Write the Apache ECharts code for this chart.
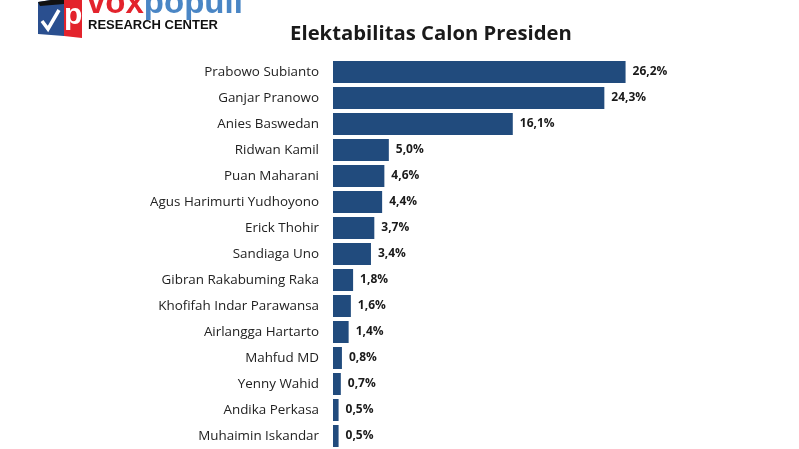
<!DOCTYPE html>
<html><head><meta charset="utf-8">
<script src="https://cdn.jsdelivr.net/npm/echarts@6/dist/echarts.min.js"></script>
<style>html,body{margin:0;padding:0;background:#fff}#c{width:799px;height:449px}</style>
</head><body><div id="c"></div>
<script>
var categories = ["Prabowo Subianto","Ganjar Pranowo","Anies Baswedan","Ridwan Kamil","Puan Maharani","Agus Harimurti Yudhoyono","Erick Thohir","Sandiaga Uno","Gibran Rakabuming Raka","Khofifah Indar Parawansa","Airlangga Hartarto","Mahfud MD","Yenny Wahid","Andika Perkasa","Muhaimin Iskandar"];
var values = [26.2,24.3,16.1,5.0,4.6,4.4,3.7,3.4,1.8,1.6,1.4,0.8,0.7,0.5,0.5];
var titleText = "Elektabilitas Calon Presiden";

var chart = echarts.init(document.getElementById('c'));
chart.setOption({
  backgroundColor: '#fff',
  animation: false,
  title: {text: titleText, left: 426, top: 19, textAlign: 'center',
    textStyle: {fontFamily: 'Open Sans', fontWeight: 'bold', fontSize: 20.3, color: '#1a1a1a'}},
  grid: {left: 333, top: 59, width: 335, height: 392},
  xAxis: {type: 'value', min: 0, max: 30, show: false},
  yAxis: {type: 'category', data: categories, inverse: true,
    axisLine: {show: false}, axisTick: {show: false},
    axisLabel: {margin: 14, fontFamily: 'Open Sans', fontSize: 13.4, color: '#222'}},
  series: [{type: 'bar', data: values, barWidth: 22,
    itemStyle: {color: '#214b7d'},
    label: {show: true, position: 'right', distance: 7,
      formatter: function(p){return p.value.toFixed(1).replace('.', ',') + '%';},
      fontFamily: 'Open Sans', fontWeight: 'bold', fontSize: 12, color: '#1a1a1a'}}],
  graphic: [
    {type: 'polygon', shape: {points: [[38,2],[64,-2],[64,36],[38,34]]}, style: {fill: '#2a4f8f'}},
    {type: 'polygon', shape: {points: [[38,2],[64,-2],[64,4],[40,6]]}, style: {fill: '#111'}},
    {type: 'polyline', shape: {points: [[42,21],[48,29],[59,10]]}, style: {stroke: '#fff', lineWidth: 3.5, fill: null}},
    {type: 'polygon', shape: {points: [[64,-2],[82,0],[82,38],[64,36]]}, style: {fill: '#e3232c'}},
    {type: 'text', left: 64, top: 1, style: {text: 'p', fontFamily: 'Liberation Sans', fontWeight: 'bold', fontSize: 30, fill: '#fff'}},
    {type: 'text', left: 87, top: -13, style: {rich: {a: {fontFamily: 'Liberation Sans', fontWeight: 'bold', fontSize: 33, fill: '#e3232c'}, b: {fontFamily: 'Liberation Sans', fontWeight: 'bold', fontSize: 33, fill: '#4a86c5'}}, text: '{a|vox}{b|populi}'}},
    {type: 'text', left: 88, top: 19, style: {text: 'RESEARCH CENTER', fontFamily: 'Liberation Sans', fontWeight: 'bold', fontSize: 13, fill: '#111'}}
  ]
});
</script></body></html>
